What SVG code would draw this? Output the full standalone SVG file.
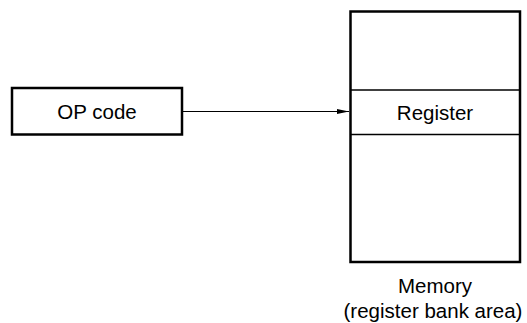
<svg xmlns="http://www.w3.org/2000/svg" width="527" height="323" viewBox="0 0 527 323">
<defs>
<style>
.box{fill:#fff;stroke:#000;stroke-width:2.5}
.div{stroke:#000;stroke-width:1.3;fill:none}
.t{font-family:"Liberation Sans",Arial,sans-serif;font-size:20.5px;fill:#000;text-anchor:middle}
.conn{stroke:#000;stroke-width:1.2;fill:none}
</style>
<marker id="ah" viewBox="0 0 12 5" refX="12" refY="2.5" markerWidth="12" markerHeight="5" markerUnits="userSpaceOnUse" orient="auto">
<path d="M0,0 L12,2.5 L0,5 Z" fill="#000"/>
</marker>
</defs>
<g id="opcode">
<rect class="box" x="12" y="88" width="170" height="46.5"/>
<text class="t" x="97" y="119">OP code</text>
</g>
<g id="memory">
<rect class="box" x="350.5" y="11.5" width="169.5" height="250.5"/>
<line class="div" x1="350.5" y1="90" x2="520" y2="90"/>
<line class="div" x1="350.5" y1="134.5" x2="520" y2="134.5"/>
<text class="t" x="435" y="120">Register</text>
<text class="t" x="435" y="293">Memory</text>
<text class="t" x="433" y="317.5">(register bank area)</text>
</g>
<g id="connectors">
<line class="conn" x1="183" y1="111.5" x2="349" y2="111.5" marker-end="url(#ah)"/>
</g>
</svg>
